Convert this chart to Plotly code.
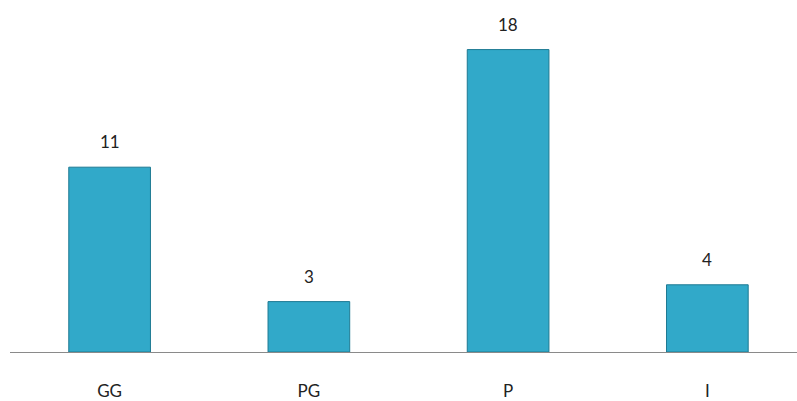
import plotly.graph_objects as go

categories = ["GG", "PG", "P", "I"]
values = [11, 3, 18, 4]

fig = go.Figure()
fig.add_trace(go.Bar(
    x=categories, y=values, width=0.41,
    marker=dict(color="#31A9C9", line=dict(color="#1E7A93", width=1)),
    hoverinfo="skip",
))
for c, v in zip(categories, values):
    fig.add_annotation(x=c, y=v, text=str(v), showarrow=False, yanchor="bottom",
                       yshift=13, font=dict(family="Lato", size=17, color="#222222"))

fig.update_layout(
    width=797, height=401, margin=dict(l=10, r=0, t=20, b=45),
    paper_bgcolor="white", plot_bgcolor="white", showlegend=False,
    font=dict(family="Lato", size=17, color="#222222"),
)
fig.update_xaxes(range=[-0.5, 3.45], showline=True, linecolor="#8a8a8a", linewidth=1,
                 ticks="", showgrid=False, ticklabelstandoff=24)
fig.update_yaxes(range=[0, 19.76], visible=False, showgrid=False, zeroline=False)
fig.write_html("out.html", config={"displayModeBar": False},
               post_script="document.body.style.margin='0';document.body.style.overflow='hidden';")
